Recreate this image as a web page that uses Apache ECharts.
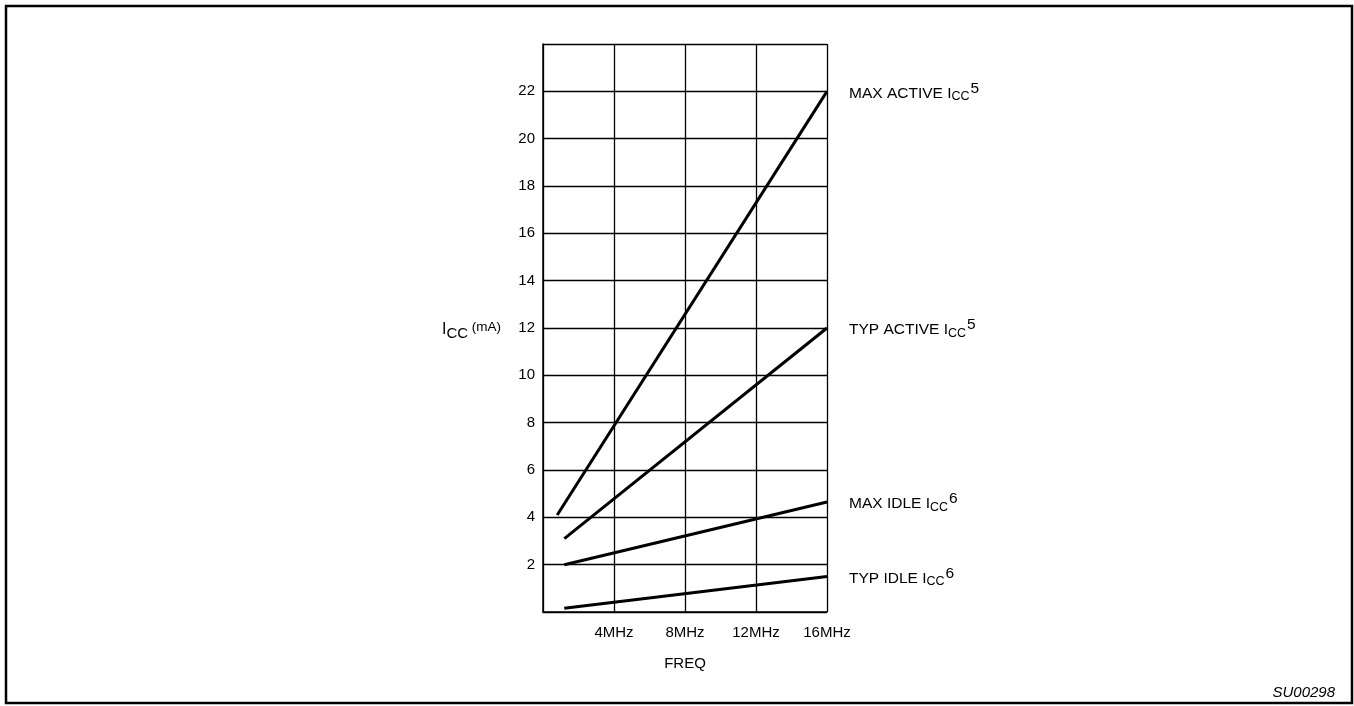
<!DOCTYPE html>
<html>
<head>
<meta charset="utf-8">
<script src="https://cdn.jsdelivr.net/npm/echarts@6/dist/echarts.min.js"></script>
<style>
html,body{margin:0;padding:0;background:#fff;}
#c{width:1354px;height:706px;}
</style>
</head>
<body>
<div id="c"></div>
<script>
// ---- data ----
const xTicks = [0, 4, 8, 12, 16];            // MHz
const yTicks = [2, 4, 6, 8, 10, 12, 14, 16, 18, 20, 22];
const seriesNames = ['MAX ACTIVE', 'TYP ACTIVE', 'MAX IDLE', 'TYP IDLE'];
const noteNums = ['5', '5', '6', '6'];
const maxActive = [[0.8, 4.1], [16, 22.0]];
const typActive = [[1.2, 3.1], [16, 12.0]];
const maxIdle   = [[1.2, 2.0], [16, 4.65]];
const typIdle   = [[1.2, 0.16], [16, 1.5]];
const allData = [maxActive, typActive, maxIdle, typIdle];

const FONT = "'Liberation Sans', Arial, Helvetica, sans-serif";
const chart = echarts.init(document.getElementById('c'), null, {renderer: 'canvas'});

const labelRich = {
  m: {fontSize: 15.5, fontFamily: FONT, fontWeight: 'normal', color: '#000', lineHeight: 30, verticalAlign: 'middle'},
  sub: {fontSize: 12.5, fontFamily: FONT, fontWeight: 'normal', color: '#000', lineHeight: 30, verticalAlign: 'bottom', padding: [0, 0, 5, 0]},
  sup: {fontSize: 15.5, fontFamily: FONT, fontWeight: 'normal', color: '#000', lineHeight: 30, verticalAlign: 'top', padding: [2, 0, 0, 1]}
};

const series = allData.map((d, i) => ({
  type: 'line',
  name: seriesNames[i],
  data: d,
  symbol: 'none',
  lineStyle: {color: '#000', width: 3},
  animation: false,
  silent: true,
  endLabel: {
    show: true,
    distance: 22,
    offset: [0, 2],
    formatter: () => '{m|' + seriesNames[i] + ' I}{sub|CC}{sup|' + noteNums[i] + '}',
    rich: labelRich
  }
}));

const option = {
  animation: false,
  backgroundColor: '#fff',
  grid: {left: 543, top: 44, width: 284, height: 568, containLabel: false},
  xAxis: {
    type: 'value', min: 0, max: 16, interval: 4,
    axisLine: {show: true, lineStyle: {color: '#000', width: 1.5}},
    axisTick: {show: false},
    splitLine: {show: true, lineStyle: {color: '#000', width: 1.3}},
    axisLabel: {
      margin: 13, color: '#000', fontSize: 15, fontFamily: FONT,
      formatter: v => (xTicks.indexOf(v) > 0 ? v + 'MHz' : '')
    },
    name: 'FREQ', nameLocation: 'middle', nameGap: 44,
    nameTextStyle: {color: '#000', fontSize: 15, fontFamily: FONT}
  },
  yAxis: {
    type: 'value', min: 0, max: 24, interval: 2,
    axisLine: {show: true, lineStyle: {color: '#000', width: 1.5}},
    axisTick: {show: false},
    splitLine: {show: true, lineStyle: {color: '#000', width: 1.3}},
    axisLabel: {
      margin: 8, color: '#000', fontSize: 15, fontFamily: FONT,
      formatter: v => (yTicks.indexOf(v) >= 0 ? String(v) : '')
    }
  },
  title: [
    {
      text: '{m|I}{sub|CC}{s| (mA)}',
      left: 437, top: 311,
      textStyle: {
        fontWeight: 'normal',
        rich: {
          m: {fontSize: 16, fontFamily: FONT, fontWeight: 'normal', color: '#000', lineHeight: 28, verticalAlign: 'middle'},
          sub: {fontSize: 15, fontFamily: FONT, fontWeight: 'normal', color: '#000', lineHeight: 28, verticalAlign: 'bottom', padding: [0, 0, 3, 0]},
          s: {fontSize: 13.5, fontFamily: FONT, fontWeight: 'normal', color: '#000', lineHeight: 28, verticalAlign: 'top', padding: [4, 0, 0, 0]}
        }
      }
    },
    {
      text: 'SU00298',
      right: 14, top: 680,
      textStyle: {fontSize: 15, fontStyle: 'italic', fontWeight: 'normal', fontFamily: FONT, color: '#000'}
    }
  ],
  graphic: [{
    type: 'rect',
    shape: {x: 6, y: 6, width: 1346, height: 697},
    style: {fill: 'none', stroke: '#000', lineWidth: 2.5},
    silent: true
  }],
  series: series
};
chart.setOption(option);
</script>
</body>
</html>
